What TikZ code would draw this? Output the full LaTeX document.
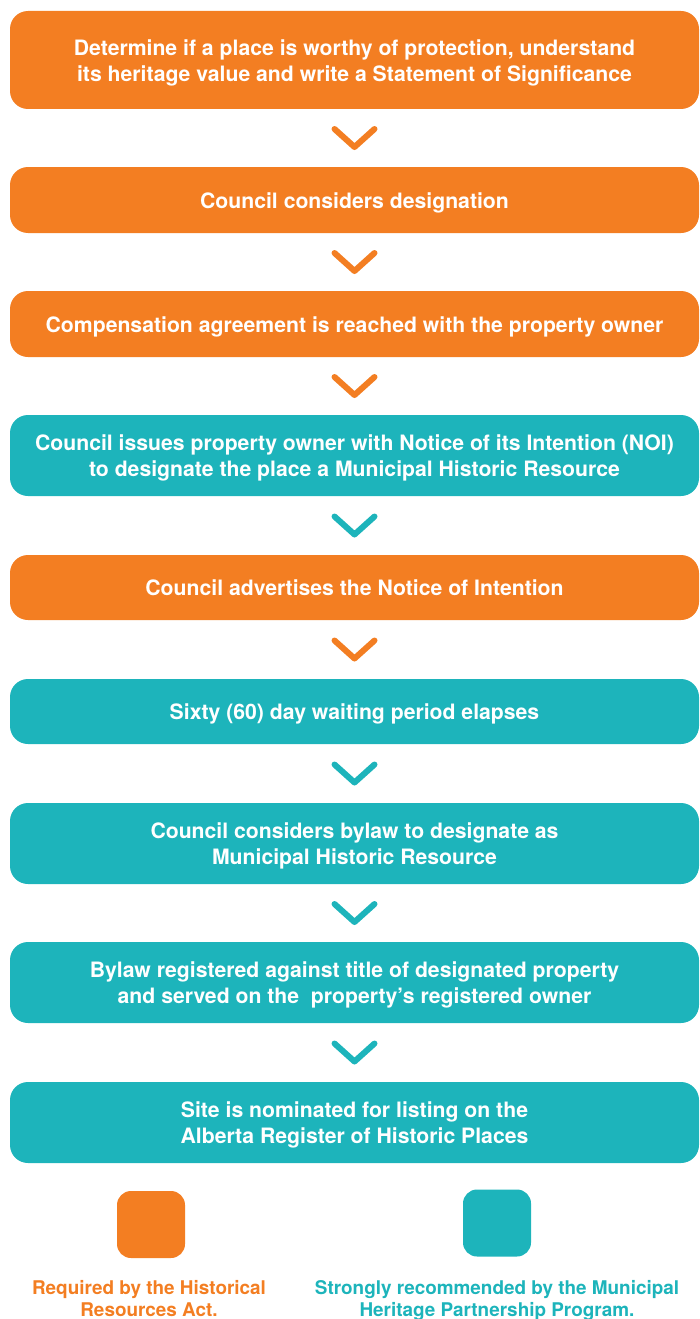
\documentclass[tikz,border=0pt]{standalone}
\usepackage{fontspec}
\setmainfont{TeX Gyre Heros}
\usetikzlibrary{calc}
\definecolor{reqorange}{HTML}{F37E22}
\definecolor{recteal}{HTML}{1DB4BB}
\tikzset{
  x=1pt, y=-1pt,
  stepbox/.style={rounded corners=18pt, minimum width=689pt, inner sep=0pt,
    text=white, font=\bfseries\fontsize{21.2}{26}\selectfont},
  req/.style={stepbox, fill=reqorange},
  rec/.style={stepbox, fill=recteal},
  chev/.style={line width=6pt, line cap=round, line join=round},
  swatch/.style={rounded corners=14pt, minimum width=68pt, minimum height=67pt, inner sep=0pt},
  legend/.style={font=\bfseries\fontsize{18.9}{22}\selectfont, align=center},
}
% centred step text, set a little below the middle of its box
\newcommand{\steptext}[1]{\raisebox{-3pt}[\height][\depth]{\begin{tabular}{@{}c@{}}#1\end{tabular}}}
% chevron drawn halfway between two consecutive steps
\newcommand{\chevron}[3]{%
  \draw[chev, #3] ($($(#1.south)!0.5!(#2.north)$)+(-20,-9)$) -- ($($(#1.south)!0.5!(#2.north)$)+(0,9)$) -- ($($(#1.south)!0.5!(#2.north)$)+(20,-9)$);}
\begin{document}
\begin{tikzpicture}
\useasboundingbox (0,0) rectangle (700,1319);
\node[req, minimum height=98pt] (s1) at (354.5,60) {\steptext{Determine if a place is worthy of protection, understand\\its heritage value and write a Statement of Significance}};
\node[req, minimum height=66pt] (s2) at (354.5,200) {\steptext{Council considers designation}};
\node[req, minimum height=66pt] (s3) at (354.5,324) {\steptext{Compensation agreement is reached with the property owner}};
\node[rec, minimum height=81pt] (s4) at (354.5,455.5) {\steptext{Council issues property owner with Notice of its Intention (NOI)\\to designate the place a Municipal Historic Resource}};
\node[req, minimum height=65pt] (s5) at (354.5,587.5) {\steptext{Council advertises the Notice of Intention}};
\node[rec, minimum height=65pt] (s6) at (354.5,711.5) {\steptext{Sixty (60) day waiting period elapses}};
\node[rec, minimum height=81pt] (s7) at (354.5,843.5) {\steptext{Council considers bylaw to designate as\\Municipal Historic Resource}};
\node[rec, minimum height=81pt] (s8) at (354.5,982.5) {\steptext{Bylaw registered against title of designated property\\and served on the \ property’s registered owner}};
\node[rec, minimum height=81pt] (s9) at (354.5,1122.5) {\steptext{Site is nominated for listing on the\\Alberta Register of Historic Places}};
\chevron{s1}{s2}{reqorange}
\chevron{s2}{s3}{reqorange}
\chevron{s3}{s4}{reqorange}
\chevron{s4}{s5}{recteal}
\chevron{s5}{s6}{reqorange}
\chevron{s6}{s7}{recteal}
\chevron{s7}{s8}{recteal}
\chevron{s8}{s9}{recteal}
\node[swatch, fill=reqorange] (kreq) at (151,1224.5) {};
\node[swatch, fill=recteal] (krec) at (497,1223) {};
\node[legend, text=reqorange, anchor=north] (treq) at (149,1277) {Required by the Historical\\Resources Act.};
\node[legend, text=recteal, anchor=north] (trec) at (497,1277) {Strongly recommended by the Municipal\\Heritage Partnership Program.};
\end{tikzpicture}
\end{document}
